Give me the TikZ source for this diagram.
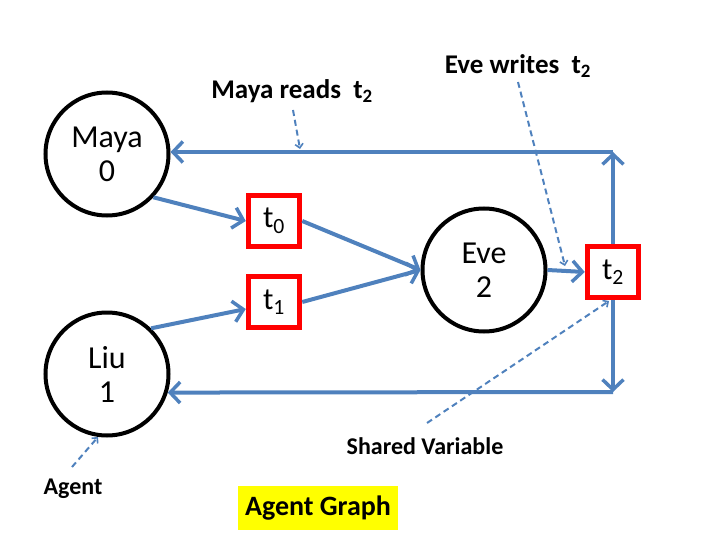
\documentclass[tikz,border=0pt]{standalone}
\usepackage{fontspec}
\setmainfont{Carlito}
\usetikzlibrary{arrows.meta}
\definecolor{lineblue}{HTML}{4F81BD}
\definecolor{boxred}{HTML}{FF0000}
\definecolor{hiyellow}{HTML}{FFFF00}
\tikzset{
  agent/.style={circle, draw=black, line width=4pt, minimum size=123pt, inner sep=0pt, align=center, font=\fontsize{32}{37}\selectfont},
  var/.style={rectangle, draw=boxred, line width=5.5pt, minimum size=51pt, inner sep=0pt, font=\fontsize{31}{36}\selectfont},
  flow/.style={draw=lineblue, line width=4pt, -{Straight Barb[length=10pt,width=21pt,line width=3.5pt]}},
  note/.style={draw=lineblue, line width=2pt, dashed, dash pattern=on 6pt off 4pt, -{Straight Barb[length=4pt,width=8pt,line width=1.6pt]}},
  lbl/.style={font=\bfseries\fontsize{24}{28}\selectfont, inner sep=0pt},
  toplbl/.style={font=\bfseries\fontsize{27}{31}\selectfont, inner sep=0pt},
}
\begin{document}
\begin{tikzpicture}[x=1pt,y=-1pt]
\useasboundingbox (0,0) rectangle (720,540);
% agents
\node[agent] (maya) at (107,154) {Maya\\[-3pt]0};
\node[agent] (liu) at (107,374) {Liu\\[-3pt]1};
\node[agent] (eve) at (484,270) {Eve\\[-3pt]2};
% shared variables
\node[var] (t0) at (274,221) {t\textsubscript{0}};
\node[var] (t1) at (274,302) {t\textsubscript{1}};
\node[var] (t2) at (613,272) {t\textsubscript{2}};
% corners
\coordinate (c1) at (613,152);
\coordinate (c2) at (613,392);
% connectors
\draw[flow] (maya.-43) -- (t0.west);
\draw[flow] (liu.46) -- ([yshift=-7pt]t1.west);
\draw[flow] (t1.east) -- (eve.west);
\draw[flow] (t0.east) -- (eve.west);
\draw[flow] (eve.east) -- (t2.west);
\draw[flow] (t2.north) -- (c1);
\draw[flow] (c1) -- (maya.east |- c1);
\draw[flow] (t2.south) -- (c2);
\draw[flow] (c2) -- (liu.-17);
% labels
\node[toplbl] (lmaya) at (292,91) {Maya reads\ \ t\textsubscript{2}};
\node[toplbl] (leve) at (518,66) {Eve writes\ \ t\textsubscript{2}};
\node[lbl] (lshared) at (425,446) {Shared Variable};
\node[lbl] (lagent) at (73,489) {Agent};
\node[lbl, fill=hiyellow, minimum width=160pt, minimum height=44pt, font=\bfseries\fontsize{28}{32}\selectfont] (title) at (318,508) {Agent Graph};
% annotation pointers
\coordinate (a1) at (293,110);
\coordinate (a2) at (300,149);
\draw[note] (a1) -- (a2);
\coordinate (b1) at (518,82);
\coordinate (b2) at (565,266);
\draw[note] (b1) -- (b2);
\coordinate (s1) at (427,423);
\coordinate (s2) at (609,301);
\draw[note] (s1) -- (s2);
\coordinate (g1) at (72,467);
\coordinate (g2) at (98,437);
\draw[note] (g1) -- (g2);
\end{tikzpicture}
\end{document}
